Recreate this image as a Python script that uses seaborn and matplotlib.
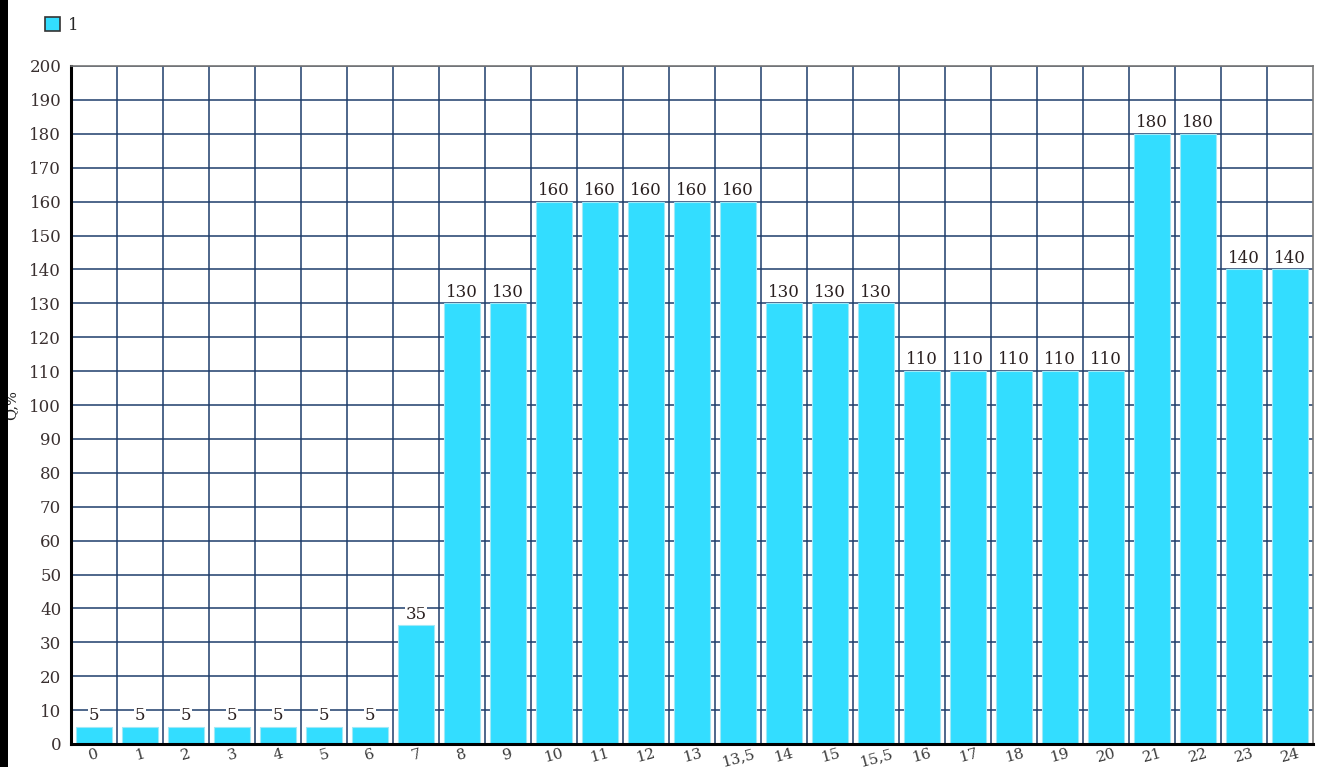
import matplotlib
matplotlib.use("Agg")
import matplotlib.pyplot as plt
import matplotlib.patches as mpatches
import seaborn as sns
import pandas as pd
import numpy as np

categories = ["0", "1", "2", "3", "4", "5", "6", "7", "8", "9", "10", "11", "12", "13",
              "13,5", "14", "15", "15,5", "16", "17", "18", "19", "20", "21", "22", "23", "24"]
values = [5, 5, 5, 5, 5, 5, 5, 35, 130, 130, 160, 160, 160, 160,
          160, 130, 130, 130, 110, 110, 110, 110, 110, 180, 180, 140, 140]
series_name = "1"
y_label = "Q,%"

bar_color = "#33DDFF"
grid_color = "#1E3D6B"

sns.set_theme(style="white")
plt.rcParams["font.family"] = ["DejaVu Serif", "Liberation Serif"]

df = pd.DataFrame({"cat": categories, "val": values})

fig = plt.figure(figsize=(13.17, 7.67), dpi=100)
ax = fig.add_axes([71 / 1317, 1 - 744 / 767, (1313 - 71) / 1317, (744 - 66) / 767])

sns.barplot(data=df, x="cat", y="val", color=bar_color, width=0.8,
            edgecolor="#9FE9F7", linewidth=0.8, saturation=1, ax=ax, zorder=2)

n = len(categories)
ax.set_xlim(-0.5, n - 0.5)
ax.set_ylim(0, 200)

# grid: horizontal every 10, vertical at category boundaries
ax.set_yticks(np.arange(0, 201, 10))
ax.set_xticks(np.arange(n))
ax.set_xticks(np.arange(0.5, n - 0.5, 1), minor=True)
ax.set_xticklabels(categories, rotation=15, fontsize=11, color="#3a3a3a")
ax.tick_params(axis="x", which="major", length=0, pad=2)
ax.tick_params(axis="x", which="minor", length=5, width=1.2, color="#333333", direction="out")
ax.tick_params(axis="y", length=5, width=1.2, color="#222222", direction="out",
               labelsize=12, labelcolor="#3a3030", pad=2)
ax.set_axisbelow(True)
ax.yaxis.grid(True, color=grid_color, linewidth=1.1)
ax.xaxis.grid(True, which="minor", color=grid_color, linewidth=1.1)
ax.xaxis.grid(False, which="major")

for side in ["left", "bottom"]:
    ax.spines[side].set_color("black")
    ax.spines[side].set_linewidth(2.2)
for side in ["top", "right"]:
    ax.spines[side].set_color("#777777")
    ax.spines[side].set_linewidth(1.2)

ax.set_xlabel("")
ax.set_ylabel(y_label, fontsize=10.5, labelpad=8, color="#222222")

# value labels above each bar
for container in ax.containers:
    ax.bar_label(container, labels=[str(v) for v in values], padding=2, fontsize=12,
                 color="#2a2020",
                 bbox=dict(facecolor="white", edgecolor="none", pad=0.6))

# legend
handle = mpatches.Patch(facecolor=bar_color, edgecolor="#333333", linewidth=1.2)
fig.legend([handle], [series_name], loc="upper left", bbox_to_anchor=(30 / 1317, 1 - 2 / 767),
           frameon=False, fontsize=12, handlelength=0.9, handleheight=0.9, handletextpad=0.5)

# dark band along the left edge
fig.patches.append(mpatches.Rectangle((0, 0), 8 / 1317, 1, transform=fig.transFigure,
                                      facecolor="black", edgecolor="none"))

fig.savefig("out.png", dpi=100)
